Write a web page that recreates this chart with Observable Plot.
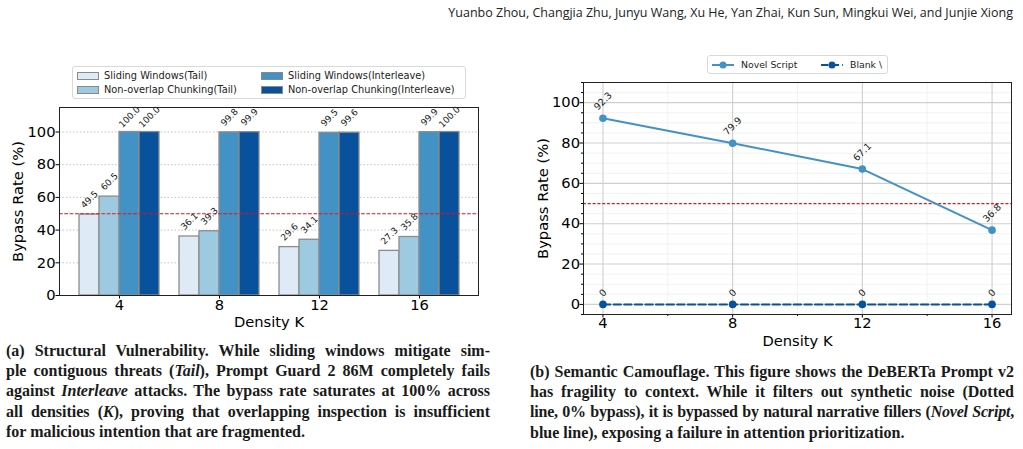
<!DOCTYPE html>
<html>
<head>
<meta charset="utf-8">
<script src="https://cdn.jsdelivr.net/npm/d3@7"></script>
<script src="https://cdn.jsdelivr.net/npm/@observablehq/plot@0.6"></script>
<style>
  html, body { margin: 0; padding: 0; background: #fff; }
  body { width: 1023px; height: 449px; position: relative; overflow: hidden; font-family: "DejaVu Sans", sans-serif; }
  #header { position: absolute; right: 10px; top: 4px; font-family: "Open Sans", sans-serif; font-size: 12.5px; color: #222; white-space: nowrap; }
  .chart { position: absolute; }
  .legend { position: absolute; border: 1px solid #d9d9d9; border-radius: 3px; background: #fff; color: #222; }
  .legend .item { position: absolute; white-space: nowrap; line-height: 1; }
  .legend .sw { position: absolute; box-sizing: border-box; border: 1px solid #8a8a8a; }
  .cap { position: absolute; font-family: "Liberation Serif", serif; font-weight: bold; font-size: 16px; line-height: 20.2px; color: #1a1a1a; }
  .cap div { text-align: justify; text-align-last: justify; white-space: nowrap; }
  .cap div.last { text-align-last: left; }
  .cap div.tight { letter-spacing: -0.2px; }
</style>
</head>
<body>
<div id="header">Yuanbo Zhou, Changjia Zhu, Junyu Wang, Xu He, Yan Zhai, Kun Sun, Mingkui Wei, and Junjie Xiong</div>

<div id="barChart" class="chart" style="left:0px; top:100px;"></div>
<div id="barLegend" class="legend" style="left:72px; top:66px; width:392px; height:31px;"></div>

<div id="lineChart" class="chart" style="left:520px; top:78px;"></div>
<div id="lineLegend" class="legend" style="left:707px; top:55px; width:179px; height:17px;"></div>

<div class="cap" style="left:6px; top:341px; width:484px;">
  <div>(a) Structural Vulnerability. While sliding windows mitigate sim-</div>
  <div>ple contiguous threats (<i>Tail</i>), Prompt Guard 2 86M completely fails</div>
  <div>against <i>Interleave</i> attacks. The bypass rate saturates at 100% across</div>
  <div>all densities (<i>K</i>), proving that overlapping inspection is insufficient</div>
  <div class="last">for malicious intention that are fragmented.</div>
</div>
<div class="cap" style="left:530px; top:362px; width:484px;">
  <div>(b) Semantic Camouflage. This figure shows the DeBERTa Prompt v2</div>
  <div>has fragility to context. While it filters out synthetic noise (Dotted</div>
  <div class="tight">line, 0% bypass), it is bypassed by natural narrative fillers (<i>Novel Script</i>,</div>
  <div class="last">blue line), exposing a failure in attention prioritization.</div>
</div>

<script>
// ---- (a) bypass rate by chunking strategy and density K ----
const densities = ["4", "8", "12", "16"];
const barSeries = [
  "Sliding Windows(Tail)",
  "Non-overlap Chunking(Tail)",
  "Sliding Windows(Interleave)",
  "Non-overlap Chunking(Interleave)"
];
const barColors = ["#deebf7", "#9ecae1", "#4292c6", "#08519c"];
const slidingTail = [49.5, 36.1, 29.6, 27.3];
const chunkTail = [60.5, 39.3, 34.1, 35.8];
const slidingInterleave = [100.0, 99.8, 99.5, 99.9];
const chunkInterleave = [100.0, 99.9, 99.6, 100.0];
const barTicks = [0, 20, 40, 60, 80, 100];

// ---- (b) bypass rate by filler type and density K ----
const lineK = [4, 8, 12, 16];
const lineSeries = ["Novel Script", "Blank \\"];
const lineColors = ["#4292c6", "#08519c"];
const novelScript = [92.3, 79.9, 67.1, 36.8];
const blankFiller = [0, 0, 0, 0];
const lineMajorY = [0, 20, 40, 60, 80, 100];
const lineMinorY = [-5, 5, 10, 15, 25, 30, 35, 45, 50, 55, 65, 70, 75, 85, 90, 95, 105, 110];
const lineMinorX = [6, 10, 14];

// attack success threshold shown on both panels
const threshold = 50;

const axisFont = 14.7;

// ---------- bar chart ----------
const barValues = [slidingTail, chunkTail, slidingInterleave, chunkInterleave];
const barRows = densities.flatMap((k, i) =>
  barValues.map((arr, s) => ({K: k, s, series: barSeries[s], value: arr[i]}))
);
const barW = 20; // width of a single bar within a density group

const barPlot = Plot.plot({
  width: 500,
  height: 230,
  marginLeft: 59,
  marginRight: 22,
  marginTop: 7,
  marginBottom: 35,
  style: {fontFamily: "DejaVu Sans", fontSize: axisFont + "px", color: "#000", background: "transparent", overflow: "visible"},
  x: {domain: densities, paddingInner: 0.2, paddingOuter: 0.195, label: null, tickSize: 3.5, tickPadding: 1},
  y: {domain: [0, 115], ticks: barTicks, label: null, tickSize: 3.5, tickPadding: 0.5},
  color: {domain: barSeries, range: barColors},
  marks: [
    Plot.ruleY(barTicks.filter(t => t > 0), {stroke: "#b5b5b5", strokeWidth: 0.8, strokeDasharray: "1.5,2"}),
    ...barSeries.map((name, s) => Plot.barY(barRows.filter(d => d.s === s), {
      x: "K", y: "value", fill: "series",
      stroke: "#8c8c8c", strokeWidth: 1.3,
      insetLeft: s * barW, insetRight: (barSeries.length - 1 - s) * barW
    })),
    Plot.ruleY([threshold], {stroke: "#e3131b", strokeWidth: 1, strokeDasharray: "3.7,1.6"}),
    ...barSeries.map((name, s) => Plot.text(barRows.filter(d => d.s === s), {
      x: "K", y: "value", text: d => d.value.toFixed(1),
      rotate: -45, dx: (s - (barSeries.length - 1) / 2) * barW, dy: -15,
      fontSize: 9, fill: "#1a1a1a"
    })),
    Plot.frame({stroke: "#222", strokeWidth: 1}),
    Plot.text(["Bypass Rate (%)"], {text: d => d, frameAnchor: "left", textAnchor: "middle", lineAnchor: "middle", rotate: -90, dx: -41, fontSize: axisFont}),
    Plot.text(["Density K"], {text: d => d, frameAnchor: "bottom", textAnchor: "middle", lineAnchor: "middle", dy: 27, fontSize: axisFont})
  ]
});
document.getElementById("barChart").append(barPlot);

// bar legend, two columns
const barLegend = document.getElementById("barLegend");
barSeries.forEach((name, s) => {
  const col = Math.floor(s / 2), row = s % 2;
  const sw = document.createElement("div");
  sw.className = "sw";
  sw.style.cssText = `left:${4 + col * 184}px; top:${row * 14 + 5}px; width:22px; height:8px; background:${barColors[s]};`;
  const label = document.createElement("div");
  label.className = "item";
  label.style.cssText = `left:${31 + col * 184}px; top:${row * 14 + 4}px; font-size:9.8px;`;
  label.textContent = name;
  barLegend.append(sw, label);
});

// ---------- line chart ----------
const lineValues = [novelScript, blankFiller];
const lineRows = lineK.flatMap((k, i) =>
  lineValues.map((arr, s) => ({K: k, s, series: lineSeries[s], value: arr[i]}))
);
const novelRows = lineRows.filter(d => d.s === 0);
const blankRows = lineRows.filter(d => d.s === 1);

const linePlot = Plot.plot({
  width: 503,
  height: 272,
  marginLeft: 63,
  marginRight: 12,
  marginTop: 4,
  marginBottom: 36,
  style: {fontFamily: "DejaVu Sans", fontSize: axisFont + "px", color: "#000", background: "transparent", overflow: "visible"},
  x: {domain: [3.4, 16.6]},
  y: {domain: [-5, 110]},
  color: {domain: lineSeries, range: lineColors},
  marks: [
    Plot.ruleY(lineMinorY, {stroke: "#efefef", strokeWidth: 0.8}),
    Plot.ruleX(lineMinorX, {stroke: "#efefef", strokeWidth: 0.8}),
    Plot.ruleY(lineMajorY, {stroke: "#cfcfcf", strokeWidth: 1.1}),
    Plot.ruleX(lineK, {stroke: "#cfcfcf", strokeWidth: 1.1}),
    Plot.axisX(lineK, {tickSize: 3.5, tickPadding: 0, label: null, tickFormat: d => String(d)}),
    Plot.axisX(lineMinorX, {tickSize: 2, tickFormat: () => "", label: null}),
    Plot.axisY(lineMajorY, {tickSize: 3.5, tickPadding: 0, label: null, tickFormat: d => String(d)}),
    Plot.axisY(lineMinorY, {tickSize: 2, tickFormat: () => "", label: null}),
    Plot.ruleY([threshold], {stroke: "#f01818", strokeWidth: 1.3, strokeDasharray: "3,1.8"}),
    Plot.line(novelRows, {x: "K", y: "value", stroke: "series", strokeWidth: 2}),
    Plot.line(blankRows, {x: "K", y: "value", stroke: "series", strokeWidth: 2, strokeDasharray: "7.4,3.2"}),
    Plot.dot(lineRows, {x: "K", y: "value", fill: "series", r: 3.8}),
    Plot.text(novelRows, {x: "K", y: "value", text: d => d.value.toFixed(1), rotate: -45, dy: -17, fontSize: 9.5, fill: "#1a1a1a"}),
    Plot.text(blankRows, {x: "K", y: "value", text: d => String(d.value), rotate: -45, dy: -11.5, fontSize: 9.5, fill: "#1a1a1a"}),
    Plot.frame({stroke: "#222", strokeWidth: 1}),
    Plot.text(["Bypass Rate (%)"], {text: d => d, frameAnchor: "left", textAnchor: "middle", lineAnchor: "middle", rotate: -90, dx: -40, fontSize: axisFont}),
    Plot.text(["Density K"], {text: d => d, frameAnchor: "bottom", textAnchor: "middle", lineAnchor: "middle", dy: 27, fontSize: axisFont})
  ]
});
document.getElementById("lineChart").append(linePlot);

// line legend, one row: line + marker swatch then name
const lineLegend = document.getElementById("lineLegend");
const lineLegendX = [3, 112];
lineSeries.forEach((name, s) => {
  const svg = d3.create("svg")
    .attr("width", 24).attr("height", 10)
    .style("position", "absolute")
    .style("left", lineLegendX[s] + "px")
    .style("top", "4px");
  svg.append("line")
    .attr("x1", 1).attr("x2", 23).attr("y1", 5).attr("y2", 5)
    .attr("stroke", lineColors[s]).attr("stroke-width", 2)
    .attr("stroke-dasharray", s === 1 ? "7.4,3.2" : null);
  svg.append("circle").attr("cx", 12).attr("cy", 5).attr("r", 3.5).attr("fill", lineColors[s]);
  const label = document.createElement("div");
  label.className = "item";
  label.style.cssText = `left:${lineLegendX[s] + 30}px; top:4px; font-size:9.3px;`;
  label.textContent = name;
  lineLegend.append(svg.node(), label);
});
</script>
</body>
</html>
